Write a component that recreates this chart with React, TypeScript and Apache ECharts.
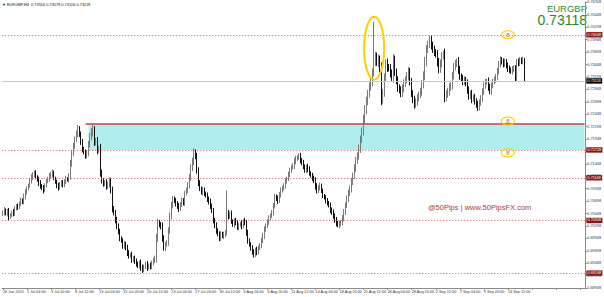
import React, { useEffect, useRef } from "react";
import * as echarts from "echarts";

// x-axis tick labels (one every 16 H4 bars)
const tickLabels = [
  "26 Jun 2015", "1 Jul 04:00", "3 Jul 20:00", "8 Jul 12:00", "13 Jul 04:00", "15 Jul 20:00",
  "20 Jul 12:00", "23 Jul 04:00", "27 Jul 20:00", "30 Jul 12:00", "4 Aug 04:00", "6 Aug 20:00",
  "11 Aug 12:00", "14 Aug 04:00", "18 Aug 20:00", "21 Aug 12:00", "26 Aug 04:00", "28 Aug 20:00",
  "2 Sep 12:00", "7 Sep 04:00", "9 Sep 20:00", "14 Sep 12:00",
];

// H4 closes, in pips (0.0001)
const closes = [
  7047, 7052, 7044, 7049, 7038, 7041, 7048, 7045, 7055, 7060,
  7057, 7066, 7071, 7068, 7080, 7087, 7095, 7102, 7111, 7118,
  7122, 7127, 7119, 7112, 7107, 7100, 7096, 7091, 7103, 7110,
  7115, 7120, 7124, 7127, 7116, 7108, 7101, 7097, 7104, 7107,
  7102, 7110, 7115, 7112, 7121, 7145, 7167, 7180, 7195, 7206,
  7215, 7205, 7188, 7175, 7168, 7161, 7167, 7184, 7201, 7209,
  7215, 7187, 7192, 7171, 7177, 7127, 7111, 7104, 7108, 7099,
  7104, 7111, 7091, 7055, 7046, 7031, 7020, 7008, 6995, 6990,
  6979, 6984, 6975, 6966, 6959, 6962, 6951, 6955, 6948, 6944,
  6939, 6945, 6936, 6931, 6938, 6943, 6935, 6941, 6937, 6946,
  6950, 6955, 6995, 7027, 7022, 7019, 6996, 6975, 6982, 6987,
  7010, 7041, 7060, 7075, 7070, 7065, 7059, 7055, 7064, 7071,
  7066, 7085, 7093, 7101, 7118, 7136, 7151, 7167, 7161, 7131,
  7107, 7095, 7087, 7092, 7085, 7081, 7074, 7068, 7061, 7050,
  7031, 7020, 7011, 7003, 6995, 7004, 6999, 7002, 7007, 7047,
  7038, 7045, 7030, 7021, 7030, 7027, 7016, 7021, 7025, 7019,
  7030, 7027, 7005, 6991, 6982, 6975, 6968, 6961, 6972, 6967,
  6975, 6981, 6990, 7001, 7012, 7021, 7028, 7035, 7041, 7047,
  7060, 7079, 7074, 7071, 7083, 7091, 7096, 7101, 7109, 7115,
  7124, 7131, 7138, 7141, 7150, 7155, 7158, 7161, 7152, 7147,
  7140, 7131, 7138, 7135, 7126, 7121, 7116, 7111, 7100, 7091,
  7097, 7101, 7090, 7081, 7076, 7071, 7066, 7061, 7052, 7047,
  7040, 7031, 7026, 7021, 7024, 7027, 7036, 7047, 7062, 7075,
  7086, 7095, 7108, 7121, 7137, 7151, 7162, 7175, 7194, 7211,
  7235, 7255, 7270, 7287, 7300, 7311, 7327, 7351, 7361, 7350,
  7355, 7337, 7275, 7287, 7320, 7347, 7340, 7337, 7328, 7319,
  7355, 7330, 7312, 7299, 7293, 7287, 7298, 7306, 7315, 7322,
  7331, 7310, 7287, 7273, 7265, 7270, 7277, 7284, 7291, 7305,
  7323, 7350, 7375, 7386, 7395, 7384, 7375, 7370, 7365, 7350,
  7335, 7348, 7361, 7367, 7279, 7285, 7291, 7298, 7303, 7322,
  7341, 7346, 7351, 7335, 7321, 7316, 7311, 7314, 7307, 7294,
  7281, 7286, 7275, 7279, 7271, 7264, 7259, 7268, 7277, 7290,
  7303, 7309, 7311, 7300, 7291, 7302, 7311, 7315, 7319, 7332,
  7345, 7355, 7350, 7346, 7351, 7342, 7337, 7334, 7331, 7336,
  7337, 7317, 7351, 7347, 7355, 7350, 7355.6, 7311.8,
];

// wick length beyond the body, in pips
const wicks = [
  4, 6, 3, 5, 7, 4, 3, 6, 5, 4, 5, 3, 6, 4, 5, 7, 4, 3, 5, 6,
  6, 4, 5, 3, 7, 5, 4, 6, 3, 5, 4, 6, 5, 7, 4, 3, 5, 6, 4, 5,
  5, 4, 6, 3, 5, 8, 6, 7, 5, 6, 8, 6, 5, 7, 4, 6, 5, 7, 6, 8,
  9, 6, 5, 7, 4, 8, 6, 5, 4, 6, 5, 7, 6, 8, 5, 6, 7, 5, 6, 4,
  5, 6, 4, 7, 5, 3, 6, 4, 5, 6, 4, 5, 7, 6, 4, 5, 6, 3, 5, 4,
  6, 5, 9, 7, 5, 6, 8, 5, 6, 4, 7, 6, 8, 5, 4, 6, 5, 7, 4, 6,
  5, 6, 4, 7, 6, 8, 6, 9, 7, 6, 7, 5, 4, 6, 5, 4, 6, 5, 7, 4,
  6, 5, 7, 4, 6, 5, 4, 6, 5, 6, 5, 4, 6, 3, 5, 6, 4, 5, 3, 6,
  4, 6, 5, 7, 4, 5, 6, 5, 4, 6, 5, 4, 6, 5, 7, 4, 5, 6, 4, 5,
  6, 5, 4, 7, 5, 6, 4, 5, 6, 4, 5, 6, 4, 5, 7, 6, 4, 5, 6, 5,
  6, 4, 5, 7, 5, 4, 6, 5, 7, 6, 5, 6, 4, 5, 3, 6, 5, 4, 6, 5,
  6, 5, 7, 4, 6, 5, 6, 7, 5, 6, 7, 6, 8, 6, 7, 8, 6, 9, 8, 7,
  9, 8, 10, 7, 9, 8, 10, 6, 9, 8, 10, 8, 12, 9, 7, 8, 10, 6, 9, 7,
  11, 8, 7, 9, 6, 8, 7, 9, 6, 8, 9, 7, 8, 6, 9, 7, 8, 6, 7, 9,
  8, 10, 9, 7, 8, 9, 7, 8, 6, 9, 8, 7, 9, 6, 10, 8, 7, 9, 6, 8,
  7, 8, 6, 9, 7, 6, 8, 7, 6, 8, 7, 6, 8, 5, 7, 6, 8, 7, 6, 7,
  6, 7, 5, 8, 6, 7, 5, 6, 7, 6, 7, 6, 5, 7, 6, 5, 7, 6, 5, 6,
  6, 7, 5, 6, 5, 4, 5, 2,
];

const firstOpen = 7044;
const highSpikes: Record<number, number> = { 149: 7091, 247: 7431, 347: 7357.9 };
const lowSpikes: Record<number, number> = { 347: 7310.6 };

const slotCount = 388;
const levelLines = [0.74048, 0.71728, 0.71168, 0.70308, 0.69248];
const currentPrice = 0.73118;
const zoneTop = 0.72258;
const zoneBottom = 0.71728;
const yMin = 0.68948;
const yMax = 0.74708;
const yStep = 0.0025;
const headerText = "▼ EURGBP,H4  0.73556 0.73579 0.73106 0.73118";
const watermark = "@50Pips | www.50PipsFX.com";

const U = 100000;
const toU = (p: number) => Math.round(p * U);
const pipU = (p: number) => Math.round(p * 10);
const fmt = (v: number) => (v / U).toFixed(5);

export default function App() {
  const ref = useRef<HTMLDivElement>(null);

  useEffect(() => {
    if (!ref.current) return;
    const chart = echarts.init(ref.current, null, { renderer: "svg" });

    const candles = closes.map((c, i) => {
      const o = i === 0 ? firstOpen : closes[i - 1];
      const w = wicks[i];
      const hi = highSpikes[i] !== undefined ? highSpikes[i] : Math.max(o, c) + w;
      const lo = lowSpikes[i] !== undefined ? lowSpikes[i] : Math.min(o, c) - w;
      return [pipU(o), pipU(c), pipU(lo), pipU(hi)];
    });

    const cats = Array.from({ length: slotCount }, (_, i) => String(i));
    const font = "Liberation Sans, Arial, DejaVu Sans, sans-serif";
    const tinyLabel = (bg: string, v: number) => ({
      show: true,
      position: "end",
      distance: 1,
      formatter: () => fmt(v),
      color: "#fff",
      backgroundColor: bg,
      fontSize: 3.8,
      fontFamily: font,
      padding: [0.8, 1.2, 0.6, 1.2],
    });

    const option: any = {
      animation: false,
      backgroundColor: "#fff",
      grid: { left: 1, right: 16, top: 0, bottom: 9 },
      xAxis: {
        type: "category",
        data: cats,
        boundaryGap: true,
        axisLine: { show: true, lineStyle: { color: "#8a8a8a", width: 1 } },
        axisTick: { show: true, interval: 15, alignWithLabel: true, length: 2, lineStyle: { color: "#8a8a8a" } },
        axisLabel: {
          interval: 15,
          align: "left",
          margin: 2,
          fontSize: 3.8,
          fontFamily: font,
          color: "#333",
          formatter: (_v: string, idx: number) => {
            const k = idx / 16;
            return Number.isInteger(k) && k < tickLabels.length ? tickLabels[k] : "";
          },
        },
        splitLine: { show: false },
      },
      yAxis: {
        type: "value",
        position: "right",
        scale: true,
        min: toU(yMin),
        max: toU(yMax),
        interval: toU(yStep),
        axisLine: { show: true, lineStyle: { color: "#8a8a8a", width: 1 } },
        axisTick: { show: true, length: 2, lineStyle: { color: "#8a8a8a" } },
        axisLabel: {
          margin: 2,
          fontSize: 3.8,
          fontFamily: font,
          color: "#333",
          showMinLabel: true,
          showMaxLabel: true,
          formatter: (v: number) => fmt(v),
        },
        splitLine: { show: false },
      },
      series: [
        {
          type: "candlestick",
          data: candles,
          barWidth: 1,
          itemStyle: {
            color: "#7a7a7a",
            color0: "#111111",
            borderColor: "#7a7a7a",
            borderColor0: "#111111",
            borderWidth: 1,
          },
          markArea: {
            silent: true,
            itemStyle: { color: "#AEEEEE", opacity: 1 },
            data: [[{ xAxis: 57, yAxis: toU(zoneTop) }, { xAxis: slotCount - 1, yAxis: toU(zoneBottom) }]],
          },
          markLine: {
            silent: true,
            symbol: ["none", "none"],
            data: [
              ...levelLines.map((v) => ({
                yAxis: toU(v),
                lineStyle: { type: [1, 2], color: "#c86060", width: 1 },
                label: tinyLabel("#8b1414", toU(v)),
              })),
              {
                yAxis: toU(currentPrice),
                lineStyle: { type: "solid", color: "#c8c8c8", width: 1 },
                label: tinyLabel("#000", toU(currentPrice)),
              },
              [
                { xAxis: 55, yAxis: toU(zoneTop), lineStyle: { type: "solid", color: "#c84040", width: 1.5 }, label: { show: false } },
                { xAxis: slotCount - 1, yAxis: toU(zoneTop) },
              ],
            ],
          },
        },
      ],
    };

    chart.setOption(option);

    const px = (i: number, p: number) =>
      chart.convertToPixel({ gridIndex: 0 } as any, [i, toU(p)]) as number[];
    const spike = px(247, 0.73778);
    const icons = [px(336, 0.74048), px(336, 0.72308), px(336, 0.71668)];

    chart.setOption({
      graphic: [
        {
          type: "text",
          left: 2,
          top: 2,
          style: { text: headerText, fontSize: 3.9, fontFamily: font, fill: "#111" },
        },
        {
          type: "text",
          right: 17,
          top: 3,
          style: { text: "EURGBP", fontSize: 9.5, fontFamily: font, fill: "#2e8b2e" },
        },
        {
          type: "text",
          right: 17,
          top: 13,
          style: { text: "0.73118", fontSize: 14, fontFamily: font, fill: "#1f8a1f" },
        },
        {
          type: "text",
          x: 428,
          y: 203,
          style: { text: watermark, fontSize: 7.5, fontFamily: font, fill: "#a8403a" },
        },
        {
          type: "ellipse",
          shape: { cx: spike[0], cy: spike[1], rx: 10, ry: 31.5 },
          style: { fill: "none", stroke: "#FFD000", lineWidth: 2 },
          z: 100,
        },
        ...icons.flatMap((c) => [
          {
            type: "ellipse",
            shape: { cx: c[0], cy: c[1], rx: 6.5, ry: 4 },
            style: { fill: "none", stroke: "#FFD000", lineWidth: 1.2 },
            z: 100,
          },
          {
            type: "text",
            x: c[0],
            y: c[1],
            style: { text: "8", fontSize: 6, fontFamily: font, fill: "#d65c4a", align: "center", verticalAlign: "middle" },
            z: 101,
          },
        ]),
      ],
    });

    return () => chart.dispose();
  }, []);

  return (
    <div
      ref={ref}
      style={{ position: "fixed", left: 0, top: 0, width: 604, height: 297, background: "#fff" }}
    />
  );
}
